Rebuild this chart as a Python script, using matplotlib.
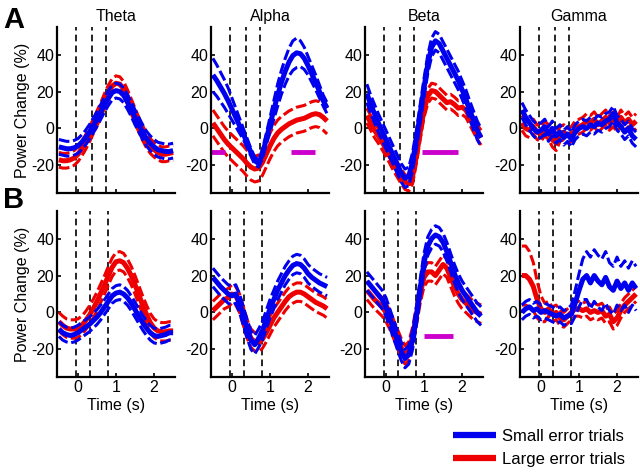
import numpy as np
import matplotlib
matplotlib.use('Agg')
import matplotlib.pyplot as plt

plt.rcParams['font.family'] = ['Liberation Sans', 'DejaVu Sans']
plt.rcParams['axes.unicode_minus'] = False

time = np.round(np.arange(-0.5, 2.51, 0.1), 2)  # 31 samples

bands = ['Theta', 'Alpha', 'Beta', 'Gamma']

# row A (top)
theta_a_small = [-10, -10.5, -11, -11, -10.5, -9.5, -7.5, -5, -2, 1.5, 5, 9, 13, 16.5, 19.5, 20.5,
                 20, 18, 14.5, 10.5, 6, 2, -2, -5.5, -8, -10, -11.5, -12, -12.5, -12.5, -12]
theta_a_large = [-17, -17.5, -17.5, -17, -16, -14, -11, -7.5, -3.5, 1, 5.5, 10, 15, 19.5, 23, 24.5,
                 24, 21.5, 17, 12, 7, 2, -2.5, -6.5, -9.5, -11.5, -13, -14, -14, -13.5, -13]
alpha_a_small = [29, 26, 22.5, 19, 15, 10.5, 6, 1.5, -3, -8, -13, -17.5, -19, -14, -6, 2,
                 10, 18, 25, 31, 36, 39.5, 41, 40.5, 38, 34, 29.5, 25, 20, 15, 11]
alpha_a_large = [3, 0, -3, -6, -8.5, -10.5, -12.5, -14.5, -16.5, -19, -21, -22, -21.5, -18.5, -14, -9.5,
                 -5.5, -2.5, -0.5, 1, 2.5, 3.5, 4.5, 5, 5.5, 6.5, 7.5, 8, 7.5, 6, 4]
beta_a_small = [19, 13, 8, 3, -1.5, -6, -10.5, -15, -19.5, -24, -27, -26, -18, -6, 8, 22,
                35, 44, 47.5, 46, 42, 38, 34, 30, 26, 21, 16, 10, 4.5, -1, -5]
beta_a_large = [7, 3, -1, -4, -7.5, -11, -15, -19, -22.5, -26, -29, -30, -26, -15, -2, 10,
                17.5, 20.5, 20, 18, 16, 14, 14.5, 13, 11, 11.5, 10, 6, 2, -2, -5]
gamma_a_small = [10, 6, 3, 0, -2, -1, 1, -3, 0, -4, -2, -5, -3, -6, -2, 0,
                 1, 0, 2, 1, 3, 2, 4, 5, 8, 3, 1, -2, 0, -4, -6]
gamma_a_large = [3, 0, -1, 1, -2, -3, 0, -2, -6, -8, -3, -2, -4, -3, 0, 1,
                 2, 4, 3, 5, 2, 4, 6, 3, 5, 2, 6, 3, 5, 2, 4]

# row B (bottom)
theta_b_small = [-9, -11, -12, -12.5, -12, -11, -9.5, -8, -6.5, -4.5, -2.5, 0, 3, 6, 9, 10.5,
                 11, 10, 8, 5, 1.5, -2, -5.5, -8.5, -11, -12.5, -13, -12.5, -12, -11, -11]
theta_b_large = [-5, -7, -8.5, -9, -9, -8.5, -7, -4.5, -1.5, 2, 6, 10.5, 15, 20, 24.5, 27.5,
                 28, 27, 24, 20, 15, 9.5, 4, -1, -5.5, -8.5, -10, -10.5, -10.5, -10, -10]
alpha_b_small = [19, 16.5, 14, 12, 10, 9, 10, 5, -2, -9, -15, -17.5, -14, -10, -4, 2,
                 7, 12, 16, 20, 23, 25.5, 26.5, 26, 24, 21, 19, 17.5, 16, 15, 14]
alpha_b_large = [1, 3, 5, 7, 8, 10, 9, 5, -2, -9, -14, -16, -16.5, -14.5, -11, -7,
                 -3, 0, 3, 6, 8.5, 10, 11, 11, 10, 8.5, 7, 5.5, 4.5, 3.5, 2]
beta_b_small = [17, 14.5, 12, 9.5, 7, 3, -3, -9, -15, -21, -25, -23, -15, -2, 13, 27,
                36, 40, 42, 41, 38, 33, 27, 21, 16, 12, 9, 6, 3, 0, -2]
beta_b_large = [12, 9.5, 7, 5, 3, 0, -4, -9, -14, -19, -23, -21, -13, -2, 10, 19,
                22, 22, 20, 23, 26, 24, 19, 14, 10, 7, 5, 3, 1, 0, -1]
gamma_b_small = [0, 2, 3, 1, 2, 0, 1, 0, -1, -2, -1, -3, -2, -1, 5, 12,
                 18, 20, 16, 20, 17, 15, 19, 14, 12, 17, 13, 16, 12, 16, 13]
gamma_b_large = [20, 20, 18, 14, 7, 2, 0, 2, -1, 0, -3, -4, -2, 0, 2, 2,
                 1, 2, 0, 1, 0, 1, -2, -1, -5, -3, 1, 4, 6, 8, 10]

# standard errors (dashed lines)
sem_alpha_a_small = [9, 8.5, 8, 7.5, 7, 6, 5, 4, 3, 2.5, 2, 2, 2, 2.5, 3, 4,
                     5, 6, 6.5, 7, 7.5, 8, 8, 7, 6, 5, 4.5, 4, 3.5, 3, 3]
sem_gamma_b_small = [4, 4, 4, 4, 4, 4, 4, 4, 4, 4, 4, 4, 4, 5, 7, 9,
                     11, 13, 14, 14, 14, 14, 14, 13, 13, 13, 12, 12, 12, 12, 12]
sem_gamma_b_large = [16, 16, 15, 13, 10, 7, 5, 4, 4, 4, 4, 4, 4, 4, 4, 4,
                     4, 4, 4, 4, 4, 4, 4, 4, 4, 4, 4, 4, 4, 4, 4]

small_rows = [[theta_a_small, alpha_a_small, beta_a_small, gamma_a_small],
              [theta_b_small, alpha_b_small, beta_b_small, gamma_b_small]]
large_rows = [[theta_a_large, alpha_a_large, beta_a_large, gamma_a_large],
              [theta_b_large, alpha_b_large, beta_b_large, gamma_b_large]]
small_sem = [[4, sem_alpha_a_small, 5, 4], [4, 5, 5, sem_gamma_b_small]]
large_sem = [[4, 7, 4, 4], [5, 5, 5, sem_gamma_b_large]]

# event markers (s)
events = [[-0.04, 0.37, 0.75], [-0.06, 0.33, 0.8]]

# significance bars: (row, col, start, end)
sig_bars = [(0, 1, -0.55, -0.17), (0, 1, 1.55, 2.17), (0, 2, 0.95, 1.9), (1, 2, 1.0, 1.75)]
sig_level = -13

BLUE = '#0000ee'
RED = '#ee0000'


def draw_series(ax, values, sem, color):
    values = np.array(values, dtype=float)
    sem = np.array(sem, dtype=float)
    ax.plot(time, values + sem, color=color, lw=2.2, dashes=(3.5, 1.2))
    ax.plot(time, values - sem, color=color, lw=2.2, dashes=(3.5, 1.2))
    line, = ax.plot(time, values, color=color, lw=3.6, solid_capstyle='butt')
    return line


fig = plt.figure(figsize=(6.4, 4.73), dpi=100)
lefts = [57, 211, 365, 520]
tops = [27, 211]
handles = None
for r in range(2):
    for c in range(4):
        ax = fig.add_axes([lefts[c] / 640, 1 - (tops[r] + 166) / 473, 118 / 640, 166 / 473])
        for e in events[r]:
            ax.axvline(e, color='black', lw=1.2, dashes=(4, 2.5))
        h_large = draw_series(ax, large_rows[r][c], large_sem[r][c], RED)
        h_small = draw_series(ax, small_rows[r][c], small_sem[r][c], BLUE)
        handles = [h_small, h_large]
        for (br, bc, x0, x1) in sig_bars:
            if br == r and bc == c:
                ax.plot([x0, x1], [sig_level, sig_level], color='#cc00cc', lw=3.5,
                        solid_capstyle='butt', clip_on=False)
        ax.set_xlim(-0.55, 2.55)
        ax.set_ylim(-35, 55)
        ax.set_yticks([-20, 0, 20, 40])
        ax.set_xticks([0, 1, 2])
        ax.tick_params(direction='in', length=3, width=1.2, labelsize=11.5, pad=2)
        for s in ['top', 'right']:
            ax.spines[s].set_visible(False)
        for s in ['left', 'bottom']:
            ax.spines[s].set_linewidth(1.6)
        if r == 0:
            ax.set_title(bands[c], fontsize=11.5, pad=4)
            ax.set_xticklabels([])
        else:
            ax.set_xlabel('Time (s)', fontsize=11.5, labelpad=2)
        if c == 0:
            ax.set_ylabel('Power Change (%)', fontsize=11.5, labelpad=1)

fig.text(0.005, 0.958, 'A', fontsize=21, fontweight='bold', va='center')
fig.text(0.005, 0.578, 'B', fontsize=21, fontweight='bold', va='center')

leg = fig.legend(handles, ['Small error trials', 'Large error trials'], loc='lower right',
                 bbox_to_anchor=(1.0, -0.018), frameon=False, fontsize=12, handlelength=2.6,
                 handletextpad=0.35, labelspacing=0.45)
for line in leg.get_lines():
    line.set_linewidth(4.5)

fig.savefig('out.png', dpi=100)
